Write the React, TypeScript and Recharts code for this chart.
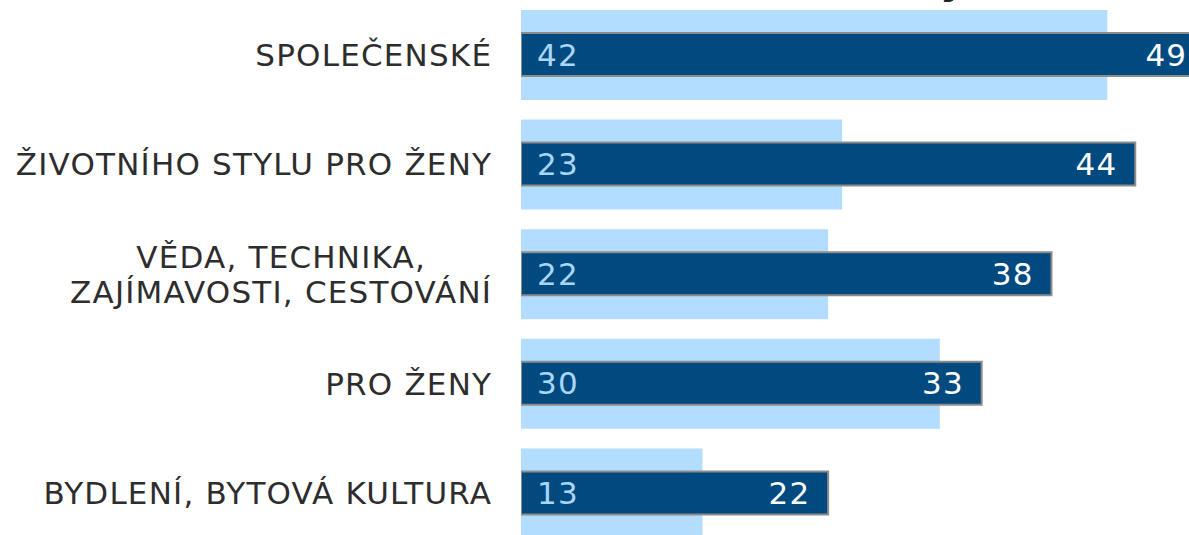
import React from 'react';
import { BarChart, Bar, XAxis, YAxis, LabelList } from 'recharts';

const categories = [
  'SPOLEČENSKÉ',
  'ŽIVOTNÍHO STYLU PRO ŽENY',
  'VĚDA, TECHNIKA,\nZAJÍMAVOSTI, CESTOVÁNÍ',
  'PRO ŽENY',
  'BYDLENÍ, BYTOVÁ KULTURA',
];
const lightValues = [42, 23, 22, 30, 13];
const darkValues = [49, 44, 38, 33, 22];

const data = categories.map((name, i) => ({ name, light: lightValues[i], dark: darkValues[i] }));

const FONT = '"DejaVu Sans", Verdana, sans-serif';
const FS = 31;
const LS = 1.2;
const LIGHT = '#b2ddfe';
const DARK = '#004a80';
const TEXT = '#2d2d2d';

let ctx: CanvasRenderingContext2D | null = null;
function measure(s: string): number {
  if (!ctx) {
    const c = document.createElement('canvas');
    ctx = c.getContext('2d');
  }
  if (!ctx) return s.length * FS * 0.6;
  ctx.font = `${FS}px "DejaVu Sans"`;
  return ctx.measureText(s).width + LS * s.length;
}

function CategoryTick(props: any) {
  const { x, y, payload } = props;
  const lines = String(payload.value).split('\n');
  const common = {
    fontFamily: FONT,
    fontSize: FS,
    letterSpacing: LS,
    fill: TEXT,
    textAnchor: 'end' as const,
  };
  if (lines.length === 1) {
    return (
      <text x={x + LS} y={y + 11} {...common}>
        {lines[0]}
      </text>
    );
  }
  const widths = lines.map(measure);
  const maxW = Math.max(...widths);
  const lineH = 35;
  const first = y - 6.5 - ((lines.length - 2) * lineH) / 2;
  return (
    <g>
      {lines.map((l, i) => (
        <text key={i} x={x + LS - (maxW - widths[i]) / 2} y={first + i * lineH} {...common}>
          {l}
        </text>
      ))}
    </g>
  );
}

function ValueLabels(props: any) {
  const vb = props.viewBox || {};
  const x = props.x ?? vb.x;
  const y = props.y ?? vb.y;
  const width = props.width ?? vb.width;
  const height = props.height ?? vb.height;
  const index = props.index;
  const cy = y + height / 2 + 11;
  return (
    <g>
      <text
        x={x + 16}
        y={cy}
        fontFamily={FONT}
        fontSize={FS}
        letterSpacing={LS}
        fill="#a9d6f7"
        textAnchor="start"
      >
        {lightValues[index]}
      </text>
      <text
        x={x + width - 19 + LS}
        y={cy}
        fontFamily={FONT}
        fontSize={FS}
        letterSpacing={LS}
        fill="#ffffff"
        textAnchor="end"
      >
        {props.value}
      </text>
    </g>
  );
}

export default function App() {
  return (
    <div
      style={{
        position: 'absolute',
        left: 0,
        top: 0,
        width: 1189,
        height: 535,
        overflow: 'hidden',
        background: '#ffffff',
      }}
    >
      <div
        style={{
          position: 'absolute',
          left: 940,
          top: -41,
          fontFamily: FONT,
          fontWeight: 'bold',
          fontSize: 40,
          lineHeight: '40px',
          color: '#222222',
          zIndex: 2,
        }}
      >
        y
      </div>
      <BarChart
        width={1219}
        height={548}
        data={data}
        layout="vertical"
        margin={{ top: 0, right: 0, bottom: 0, left: 0 }}
      >
        <XAxis type="number" domain={[0, 50]} hide allowDataOverflow />
        <YAxis
          yAxisId="a"
          type="category"
          dataKey="name"
          width={521}
          axisLine={false}
          tickLine={false}
          tickSize={0}
          tickMargin={30}
          tick={<CategoryTick />}
          interval={0}
        />
        <YAxis yAxisId="b" type="category" dataKey="name" hide />
        <Bar yAxisId="a" dataKey="light" fill={LIGHT} barSize={90} isAnimationActive={false} />
        <Bar
          yAxisId="b"
          dataKey="dark"
          fill={DARK}
          stroke="#8c8c8c"
          strokeWidth={2}
          barSize={43}
          isAnimationActive={false}
        >
          <LabelList dataKey="dark" content={<ValueLabels />} />
        </Bar>
      </BarChart>
    </div>
  );
}
